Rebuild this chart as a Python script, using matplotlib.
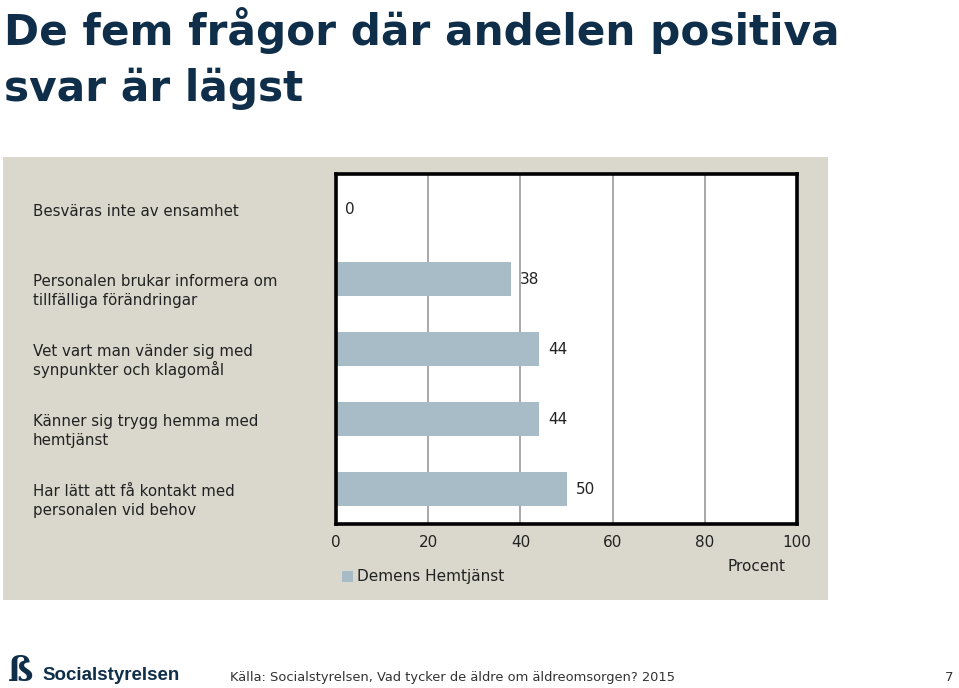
import matplotlib
matplotlib.use("Agg")
from matplotlib import pyplot as plt
from matplotlib.patches import Rectangle
from matplotlib.transforms import blended_transform_factory

# Data
categories = [
    "Besväras inte av ensamhet",
    "Personalen brukar informera om\ntillfälliga förändringar",
    "Vet vart man vänder sig med\nsynpunkter och klagomål",
    "Känner sig trygg hemma med\nhemtjänst",
    "Har lätt att få kontakt med\npersonalen vid behov",
]
values = [0, 38, 44, 44, 50]
series_name = "Demens Hemtjänst"
x_ticks = [0, 20, 40, 60, 80, 100]

title_lines = ["De fem frågor där andelen positiva", "svar är lägst"]
source = "Källa: Socialstyrelsen, Vad tycker de äldre om äldreomsorgen? 2015"
page_no = "7"

W, H = 959, 688
navy = "#0f2e4a"
bar_color = "#a7bcc7"
panel_color = "#dad7cc"
body_font = ["DejaVu Sans"]

fig = plt.figure(figsize=(W / 100, H / 100), dpi=100)
fig.patch.set_facecolor("white")


def fx(px):
    return px / W


def fy(py):
    return 1 - py / H


# Title
for line, base in zip(title_lines, [45, 101]):
    fig.text(fx(4), fy(base), line, fontsize=30.4, fontweight="bold",
             color=navy, family=["DejaVu Sans"], va="baseline", ha="left")

# Grey panel (behind the axes)
fig.patches.append(Rectangle((fx(3), fy(600)), fx(828) - fx(3), fy(157) - fy(600),
                             transform=fig.transFigure, facecolor=panel_color,
                             edgecolor="none", zorder=-5))

# Axes
ax = fig.add_axes([fx(336), fy(524), fx(797) - fx(336), fy(174) - fy(524)])
ax.set_zorder(2)
ax.set_facecolor("white")
y = list(range(len(categories)))
ax.barh(y, values, height=0.49, color=bar_color, label=series_name, zorder=2)
ax.set_xlim(0, 100)
ax.set_ylim(len(categories) - 0.5, -0.5)
ax.set_xticks(x_ticks)
ax.set_xticklabels([str(t) for t in x_ticks], fontsize=11, family=body_font, color="#222222")
ax.tick_params(axis="x", length=0, pad=8)
ax.set_yticks([])
ax.grid(axis="x", color="#a8a8a8", linewidth=1.4, zorder=1)
ax.set_axisbelow(True)
for s in ax.spines.values():
    s.set_linewidth(2.6)
    s.set_color("black")
    s.set_zorder(3)

for yi, v in zip(y, values):
    ax.annotate(str(v), xy=(v, yi), xytext=(6.5, 0), textcoords="offset points",
                va="center", ha="left", fontsize=11, family=body_font, color="#222222")

ax.set_xlabel("Procent", fontsize=11, family=body_font, color="#222222")
ax.xaxis.set_label_coords(0.913, -0.10)

# Category labels at the left side of the panel
trans = blended_transform_factory(fig.transFigure, ax.transData)
for yi, label in zip(y, categories):
    for k, line in enumerate(label.split("\n")):
        ax.text(fx(33), yi + 0.1 + k * 0.27, line, transform=trans, ha="left",
                va="baseline", fontsize=10.8, family=body_font, color="#222222",
                clip_on=False)

# Legend
leg = ax.legend(loc="center left", bbox_to_anchor=(fx(336), fy(577)),
                bbox_transform=fig.transFigure, frameon=False, handlelength=0.7,
                handleheight=0.7, handletextpad=0.3, borderaxespad=0,
                prop={"family": body_font, "size": 11})
for t in leg.get_texts():
    t.set_color("#222222")

# Footer
fig.text(fx(8), fy(681), "ß", fontsize=24, fontweight="bold", color=navy,
         family=["DejaVu Serif"], va="baseline", ha="left")
fig.text(fx(42), fy(680), "Socialstyrelsen", fontsize=13.5, fontweight="bold", color=navy,
         family=["Liberation Sans Narrow", "Liberation Sans"], va="baseline", ha="left")
fig.text(fx(230), fy(681), source, fontsize=9.35, family=body_font, color="#333333",
         va="baseline", ha="left")
fig.text(fx(953), fy(681), page_no, fontsize=9.5, family=body_font, color="#333333",
         va="baseline", ha="right")

fig.savefig("out.png", dpi=100, facecolor=fig.get_facecolor())
